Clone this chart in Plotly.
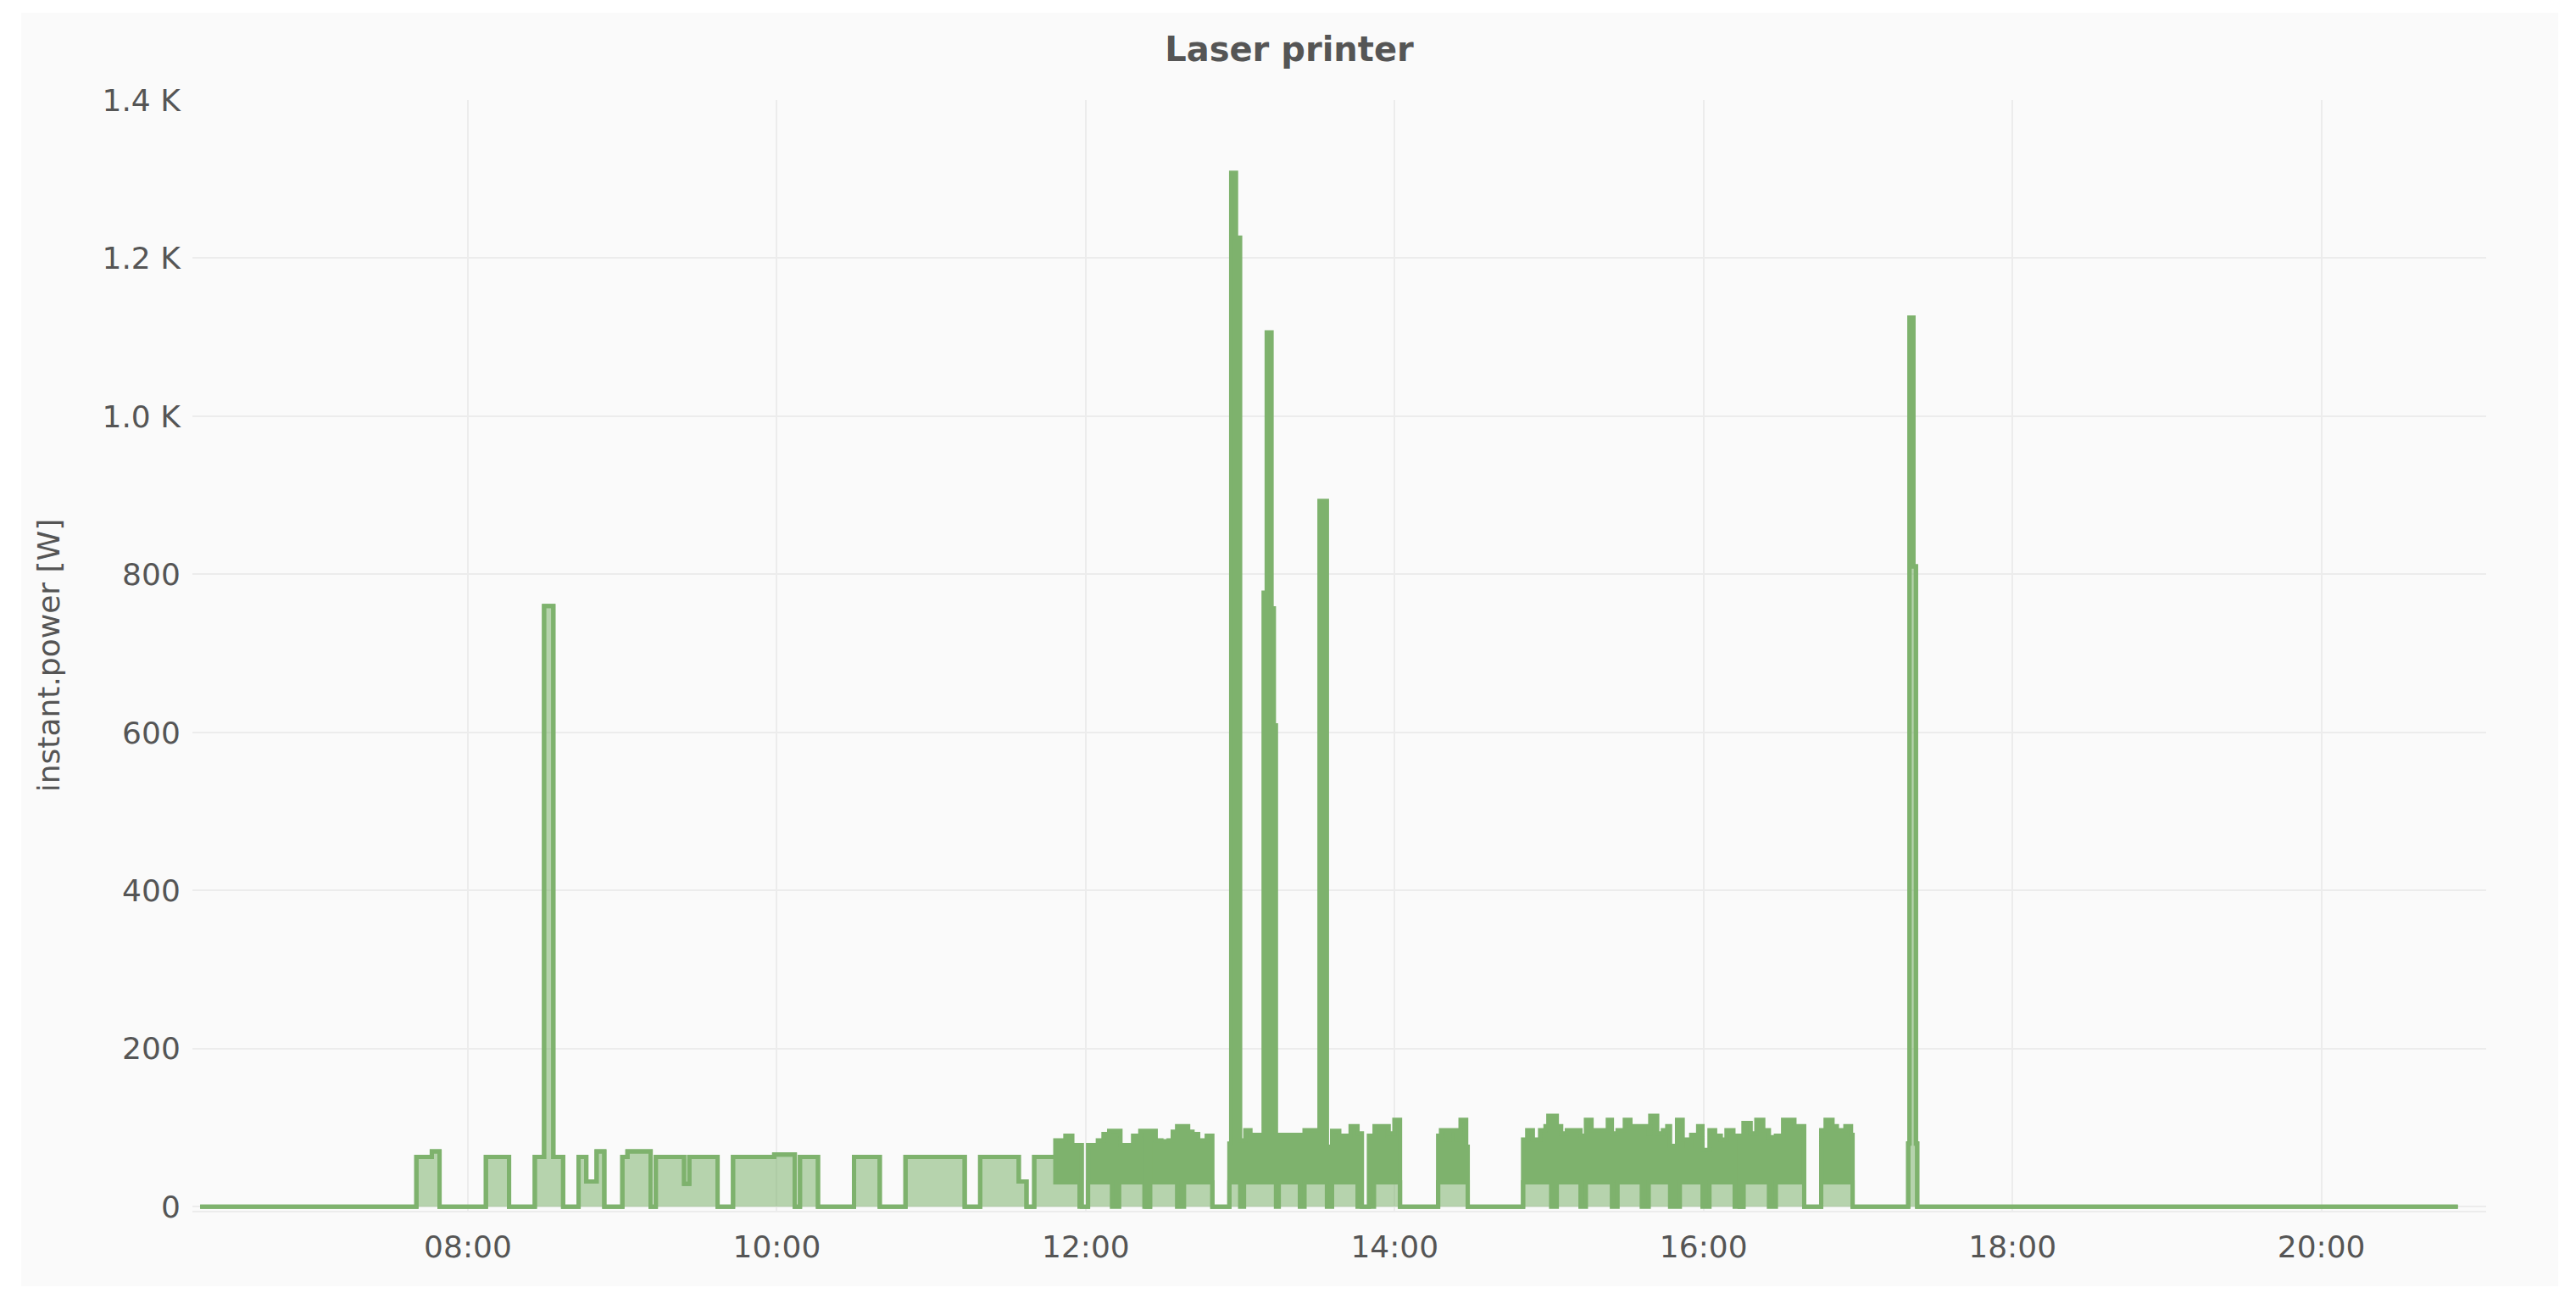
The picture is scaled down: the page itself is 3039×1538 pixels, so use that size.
import plotly.graph_objects as go

# --- data: power samples (step changes), min/max per interval in W ---
DAY = "2018-01-15"

times = [
    "06:16:00", "07:40:00", "07:46:00", "07:49:00", "08:07:00", "08:16:00",
    "08:26:00", "08:29:36", "08:33:12", "08:37:00", "08:43:00", "08:46:00",
    "08:50:00", "08:53:00", "09:00:00", "09:02:00", "09:11:00", "09:13:00",
    "09:24:00", "09:26:00", "09:37:00", "09:43:00", "09:59:00", "10:07:00",
    "10:09:00", "10:16:00", "10:30:00", "10:40:00", "10:50:00", "11:13:00",
    "11:19:00", "11:34:00", "11:37:00", "11:40:00",
    # dense printing period
    "11:48:12", "11:52:06", "11:54:48", "11:57:36", "11:58:30", "12:00:54",
    "12:04:42", "12:06:54", "12:09:06", "12:10:12", "12:13:00", "12:13:30",
    "12:18:24", "12:21:12", "12:22:48", "12:23:30", "12:25:00", "12:27:12",
    "12:29:24", "12:32:12", "12:33:48", "12:35:30", "12:38:12", "12:39:48",
    "12:41:30", "12:43:42", "12:47:00", "12:49:12", "12:55:48", "12:56:30",
    "12:58:24", "13:00:00", "13:01:30", "13:02:00", "13:04:00", "13:09:06",
    "13:10:18", "13:12:12", "13:13:06", "13:13:54", "13:15:00", "13:23:12",
    "13:25:00", "13:30:48", "13:33:42", "13:35:42", "13:38:30", "13:42:54",
    "13:45:36", "13:47:18", "13:50:00", "13:52:00", "13:52:12", "13:54:24",
    "13:55:30", "13:57:42", "13:59:54", "14:02:06", "14:16:54", "14:18:00",
    "14:20:12", "14:21:18", "14:24:00", "14:25:36", "14:27:48", "14:28:24",
    "14:49:54", "14:51:30", "14:53:42", "14:56:30", "14:58:36", "14:59:42",
    "15:00:48", "15:03:00", "15:04:42", "15:06:54", "15:12:12", "15:14:18",
    "15:16:30", "15:22:48", "15:24:24", "15:26:36", "15:29:24", "15:31:36",
    "15:36:00", "15:38:42", "15:39:18", "15:42:00", "15:44:12", "15:45:54",
    "15:47:00", "15:49:42", "15:50:48", "15:51:54", "15:53:36", "15:55:12",
    "15:57:54", "15:59:36", "16:02:18", "16:04:30", "16:06:42", "16:08:54",
    "16:11:36", "16:12:06", "16:14:00", "16:15:30", "16:18:18", "16:20:30",
    "16:23:12", "16:25:24", "16:28:06", "16:30:54", "16:35:18", "16:39:06",
    "16:45:42", "16:47:24", "16:50:06", "16:51:48", "16:55:06", "16:57:18",
    "16:57:54",
    # late spike and idle
    "17:19:30", "17:20:00", "17:21:30", "17:22:30", "17:23:00", "20:53:00",
]

p_lo = [
    0, 63, 70, 0, 63, 0,
    63, 760, 63, 0, 63, 32,
    70, 0, 63, 70, 0, 63,
    29, 63, 0, 63, 66, 0,
    63, 0, 63, 0, 63, 0,
    63, 32, 0, 63,
    31, 31, 31, 0, 0, 31,
    31, 31, 31, 0, 31, 31,
    31, 31, 0, 0, 31, 31,
    31, 31, 31, 0, 31, 31,
    31, 31, 31, 0, 31, 31,
    31, 0, 31, 31, 31, 31,
    31, 31, 31, 0, 31, 0,
    31, 31, 0, 31, 31, 31,
    0, 0, 0, 31, 31, 31,
    31, 31, 31, 0, 31, 31,
    31, 31, 31, 31, 31, 0,
    31, 31, 31, 31, 31, 31,
    0, 31, 31, 31, 0, 31,
    31, 31, 0, 31, 31, 31,
    0, 31, 31, 31, 31, 31,
    0, 0, 31, 31, 31, 31,
    31, 0, 31, 31, 31, 31,
    31, 0, 0, 31, 31, 31,
    31, 0, 31, 31, 31, 0,
    31, 31, 31, 31, 31, 31,
    0,
    80, 1125, 810, 80, 0, 0,
]

p_hi = [
    0, 63, 70, 0, 63, 0,
    63, 760, 63, 0, 63, 32,
    70, 0, 63, 70, 0, 63,
    29, 63, 0, 63, 66, 0,
    63, 0, 63, 0, 63, 0,
    63, 32, 0, 63,
    84, 90, 78, 78, 0, 78,
    84, 92, 96, 96, 96, 78,
    90, 96, 96, 0, 96, 84,
    83, 84, 95, 102, 102, 95,
    92, 84, 90, 0, 80, 1308,
    1226, 84, 84, 97, 91, 777,
    1106, 757, 609, 91, 91, 91,
    97, 893, 76, 96, 90, 102,
    93, 0, 90, 90, 102, 90,
    102, 93, 110, 0, 90, 97,
    85, 97, 85, 110, 76, 0,
    85, 97, 85, 97, 102, 115,
    115, 102, 93, 97, 90, 110,
    97, 110, 93, 97, 110, 102,
    102, 93, 115, 93, 97, 102,
    77, 110, 110, 85, 77, 91,
    102, 72, 97, 90, 85, 97,
    90, 90, 0, 106, 93, 110,
    97, 88, 90, 110, 102, 0,
    97, 110, 102, 97, 102, 91,
    0,
    80, 1125, 810, 80, 0, 0,
]

y_ticks = [0, 200, 400, 600, 800, 1000, 1200, 1400]
y_ticktext = ["0", "200", "400", "600", "800", "1.0 K", "1.2 K", "1.4 K"]

GREEN = "#7eb26d"
LIGHT = "rgba(126,178,109,0.55)"
TXT = "#555555"
FONT = "DejaVu Sans"

x = [f"{DAY} {t}" for t in times]

fig = go.Figure()
fig.add_trace(go.Scatter(x=x, y=p_lo, mode="lines", line=dict(color=GREEN, width=5, shape="hv"),
                         fill="tozeroy", fillcolor=LIGHT, hoverinfo="skip"))
fig.add_trace(go.Scatter(x=x, y=p_hi, mode="lines", line=dict(color=GREEN, width=5, shape="hv"),
                         fill="tonexty", fillcolor=GREEN, name="instant.power"))

# page body has an 8px margin, so figure coords = page coords - 8
W, H = 3039, 1538
OFF = 8
L, R, T, B = 227 - OFF, 106 + OFF, 118 - OFF, 110 + OFF
pw, ph = W - L - R, H - T - B

# light grey panel behind the chart (pixel box converted to paper coords)
px0, px1, py0, py1 = 25 - OFF, 3018 - OFF, 15 - OFF, 1517 - OFF
fig.add_shape(type="rect", xref="paper", yref="paper", layer="below",
              x0=(px0 - L) / pw, x1=(px1 - L) / pw,
              y0=(H - B - py1) / ph, y1=(H - B - py0) / ph,
              fillcolor="#fafafa", line=dict(width=0))

fig.update_layout(
    width=W, height=H,
    margin=dict(l=L, r=R, t=T, b=B),
    paper_bgcolor="white", plot_bgcolor="#fafafa",
    showlegend=False,
    font=dict(family=FONT, size=36, color=TXT),
    title=dict(text="Laser printer", x=(1521 - OFF) / W, xref="container", xanchor="center",
               y=1 - (58 - OFF) / H, yref="container", yanchor="middle",
               font=dict(family=FONT, size=40, color=TXT, weight="bold")),
)
fig.update_xaxes(
    type="date", range=[f"{DAY} 06:13", f"{DAY} 21:04"],
    tick0=f"{DAY} 08:00", dtick=2 * 3600 * 1000, tickformat="%H:%M",
    showgrid=True, gridcolor="#ececec", gridwidth=2, zeroline=False,
    showline=True, linecolor="#ececec", linewidth=2,
    ticks="outside", ticklen=10, tickcolor="rgba(0,0,0,0)",
    tickfont=dict(size=36, color=TXT),
)
fig.update_yaxes(
    range=[-5, 1400], tickvals=y_ticks, ticktext=y_ticktext,
    showgrid=True, gridcolor="#ececec", gridwidth=2, zeroline=False,
    ticks="outside", ticklen=6, tickcolor="rgba(0,0,0,0)",
    tickfont=dict(size=36, color=TXT),
    title=dict(text="instant.power [W]", standoff=38, font=dict(size=36, color=TXT)),
)

fig.write_html("out.html")
